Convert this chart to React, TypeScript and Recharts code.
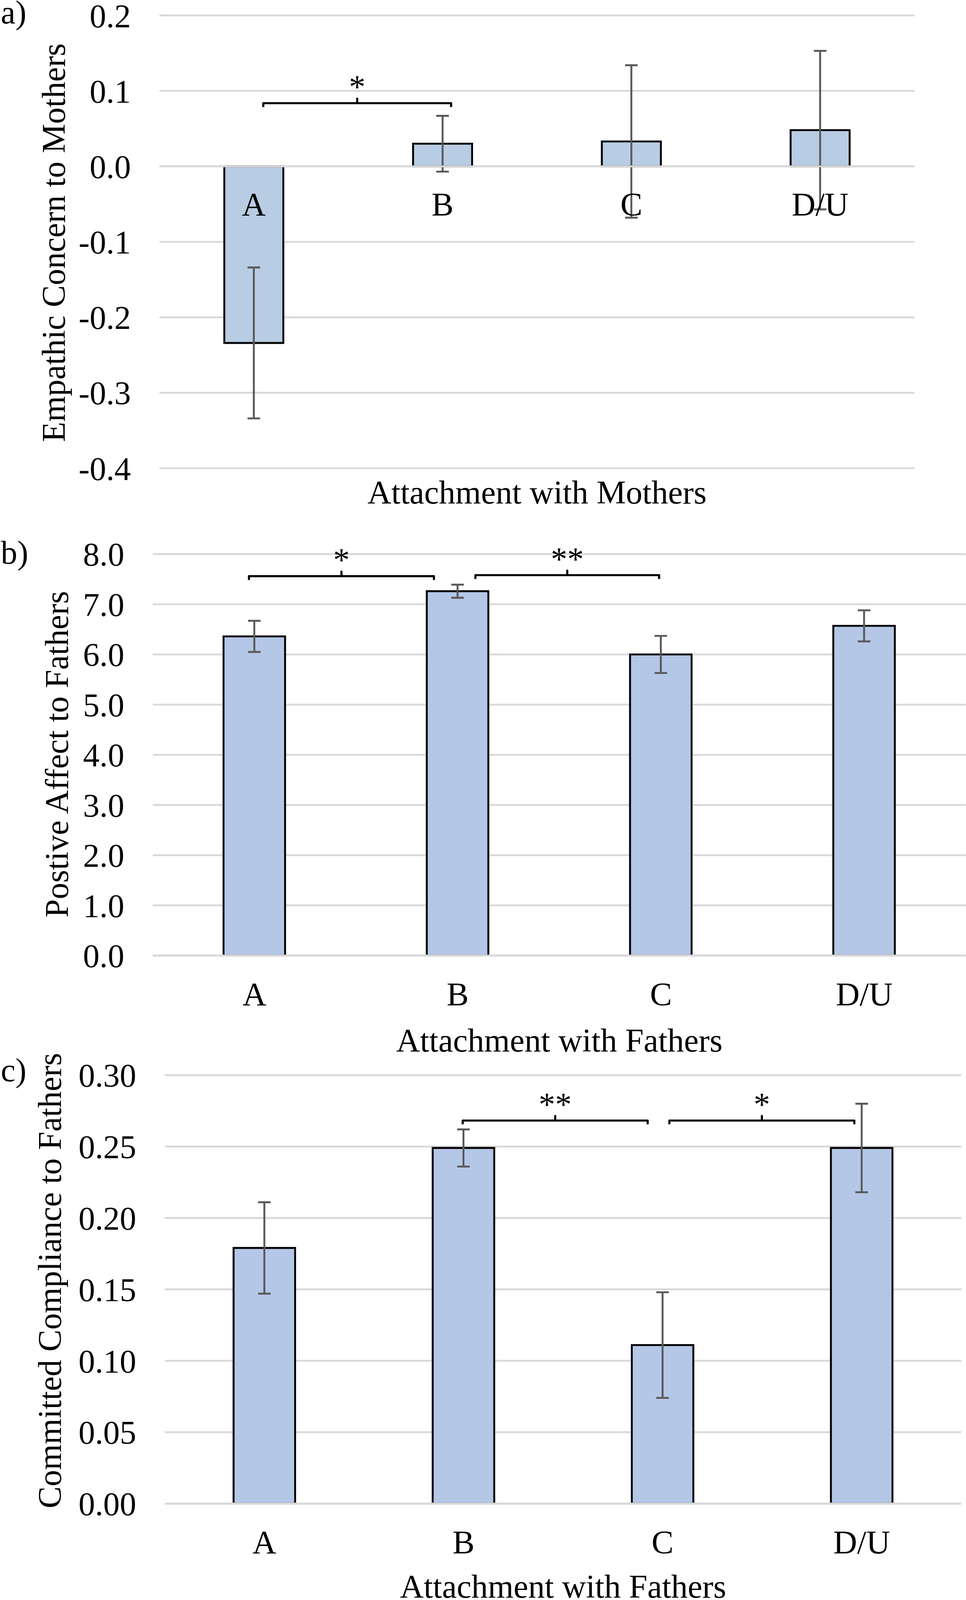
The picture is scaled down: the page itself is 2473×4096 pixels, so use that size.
import React from 'react';
import {
  ComposedChart,
  Bar,
  XAxis,
  YAxis,
  CartesianGrid,
  ErrorBar,
  LabelList,
  Line,
  ReferenceLine,
  ReferenceDot,
} from 'recharts';

const k = 0.975;
const FONT = "'Liberation Serif', 'Times New Roman', Times, serif";
const FS = 84.5;
const W = 2536;

// ---------- data ----------
const categories = ['A', 'B', 'C', 'D/U'];

const meansA = [-0.234, 0.03, 0.033, 0.048];
const errA = [0.1, 0.037, 0.101, 0.105];
const ticksA = [-0.4, -0.3, -0.2, -0.1, 0, 0.1, 0.2];

const meansB = [6.36, 7.26, 6.0, 6.57];
const errB = [0.31, 0.13, 0.37, 0.31];
const ticksB = [0, 1, 2, 3, 4, 5, 6, 7, 8];

const meansC = [0.179, 0.249, 0.111, 0.249];
const errC = [0.032, 0.013, 0.037, 0.031];
const ticksC = [0, 0.05, 0.1, 0.15, 0.2, 0.25, 0.3];

// significance brackets (positions in category-index units, level in data units)
const bracketsA = [{ from: 0.05, to: 1.045, y: 0.0837, label: '*' }];
const bracketsB = [
  { from: -0.027, to: 0.883, y: 7.56, label: '*' },
  { from: 1.087, to: 1.991, y: 7.58, label: '**' },
];
const bracketsC = [
  { from: 0.996, to: 1.925, y: 0.2682, label: '**' },
  { from: 2.034, to: 2.963, y: 0.2682, label: '*' },
];

type Bracket = { from: number; to: number; y: number; label: string };

type Panel = {
  tag: string;
  yTitle: string;
  xTitle: string;
  means: number[];
  errs: number[];
  ticks: number[];
  domain: [number, number];
  decimals: number;
  brackets: Bracket[];
  fill: string;
  atZero: boolean;
  top: number;
  height: number;
  plotLeft: number;
  plotRight: number;
  plotTop: number;
  plotBottom: number;
  barSize: number;
  tagBaseline: number;
  xTitleBaseline: number;
  yTitleX: number;
  yTitleCY: number;
  catOffset: number;
};

const panels: Panel[] = [
  {
    tag: 'a)',
    yTitle: 'Empathic Concern to Mothers',
    xTitle: 'Attachment with Mothers',
    means: meansA,
    errs: errA,
    ticks: ticksA,
    domain: [-0.4, 0.2],
    decimals: 1,
    brackets: bracketsA,
    fill: '#b8cce4',
    atZero: true,
    top: 0,
    height: 1400,
    plotLeft: 418.7,
    plotRight: 2401.3,
    plotTop: 40.5,
    plotBottom: 1229.4,
    barSize: 155,
    tagBaseline: 62,
    xTitleBaseline: 1322,
    yTitleX: 170,
    yTitleCY: 637,
    catOffset: 129,
  },
  {
    tag: 'b)',
    yTitle: 'Postive Affect to Fathers',
    xTitle: 'Attachment with Fathers',
    means: meansB,
    errs: errB,
    ticks: ticksB,
    domain: [0, 8],
    decimals: 1,
    brackets: bracketsB,
    fill: '#b4c7e7',
    atZero: false,
    top: 1380,
    height: 1420,
    plotLeft: 401.3,
    plotRight: 2536,
    plotTop: 74.3,
    plotBottom: 1128.4,
    barSize: 161.6,
    tagBaseline: 100,
    xTitleBaseline: 1381,
    yTitleX: 178,
    yTitleCY: 600,
    catOffset: 130.6,
  },
  {
    tag: 'c)',
    yTitle: 'Committed Compliance to Fathers',
    xTitle: 'Attachment with Fathers',
    means: meansC,
    errs: errC,
    ticks: ticksC,
    domain: [0, 0.3],
    decimals: 2,
    brackets: bracketsC,
    fill: '#b4c7e7',
    atZero: false,
    top: 2740,
    height: 1460,
    plotLeft: 432.8,
    plotRight: 2524,
    plotTop: 82.4,
    plotBottom: 1207.4,
    barSize: 161.6,
    tagBaseline: 98,
    xTitleBaseline: 1454.5,
    yTitleX: 160,
    yTitleCY: 622,
    catOffset: 130.6,
  },
];

const textProps = { fontSize: FS, fontFamily: FONT, fill: '#000' };

function PanelChart({ p }: { p: Panel }) {
  const data = categories.map((c, i) => ({ cat: c, mean: p.means[i], err: p.errs[i] }));
  const pxPerUnit = (p.plotBottom - p.plotTop) / (p.domain[1] - p.domain[0]);
  const hook = 10 / pxPerUnit;
  const peak = 12 / pxPerUnit;
  const plotCX = ((p.plotLeft + p.plotRight) / 2) * k;

  const zeroLabel = (props: any) => {
    const vb = props.viewBox || props;
    const x = Number(vb.x);
    const y = Number(vb.y);
    const w = Number(vb.width);
    const h = Number(vb.height);
    const idx = props.index;
    const v = idx != null ? p.means[idx] : 1;
    const zeroY = v >= 0 ? Math.max(y, y + h) : Math.min(y, y + h);
    return (
      <text x={x + w / 2} y={zeroY + p.catOffset * k} textAnchor="middle" {...textProps}>
        {props.value}
      </text>
    );
  };

  const catTick = (props: any) => {
    const { x, y, payload } = props;
    return (
      <text x={x} y={y + p.catOffset * k} textAnchor="middle" {...textProps}>
        {payload.value}
      </text>
    );
  };

  const ytx = p.yTitleX * k;
  const ytcy = p.yTitleCY * k;

  return (
    <div style={{ position: 'absolute', left: 0, top: p.top * k, width: W * k, height: p.height * k }}>
      <ComposedChart
        width={W * k}
        height={p.height * k}
        data={data}
        margin={{
          top: p.plotTop * k,
          right: (W - p.plotRight) * k,
          bottom: p.atZero ? (p.height - p.plotBottom) * k : 0,
          left: 0,
        }}
      >
        <CartesianGrid horizontal vertical={false} stroke="#d9d9d9" strokeWidth={5 * k} />
        <XAxis
          dataKey="cat"
          hide={p.atZero}
          height={p.atZero ? 0 : (p.height - p.plotBottom) * k}
          axisLine={false}
          tickLine={false}
          tickSize={0}
          tickMargin={0}
          interval={0}
          tick={catTick}
        />
        <XAxis xAxisId="num" type="number" dataKey="x" domain={[-0.5, 3.5]} hide allowDataOverflow />
        <YAxis
          width={p.plotLeft * k}
          domain={p.domain}
          ticks={p.ticks}
          allowDataOverflow
          interval={0}
          axisLine={false}
          tickLine={false}
          tickSize={0}
          tickMargin={75 * k}
          tick={textProps}
          tickFormatter={(v: number) => v.toFixed(p.decimals)}
        />
        <Bar
          dataKey="mean"
          fill={p.fill}
          stroke="#000"
          strokeWidth={5 * k}
          barSize={p.barSize * k}
          isAnimationActive={false}
        >
          <ErrorBar dataKey="err" width={16.5 * k} strokeWidth={5 * k} stroke="#595959" direction="y" />
          {p.atZero && <LabelList dataKey="cat" content={zeroLabel} />}
        </Bar>
        <ReferenceLine y={0} stroke="#d9d9d9" strokeWidth={5 * k} />
        {p.brackets.map((b, i) => {
          const mid = (b.from + b.to) / 2;
          const pts = [
            { x: b.from, y: b.y - hook },
            { x: b.from, y: b.y },
            { x: mid, y: b.y },
            { x: mid, y: b.y + peak },
            { x: mid, y: b.y },
            { x: b.to, y: b.y },
            { x: b.to, y: b.y - hook },
          ];
          return (
            <Line
              key={`br-${i}`}
              xAxisId="num"
              data={pts}
              dataKey="y"
              type="linear"
              stroke="#000"
              strokeWidth={5.5 * k}
              strokeLinejoin="round"
              dot={false}
              activeDot={false}
              legendType="none"
              isAnimationActive={false}
            />
          );
        })}
        {p.brackets.map((b, i) => (
          <ReferenceDot
            key={`st-${i}`}
            xAxisId="num"
            x={(b.from + b.to) / 2}
            y={b.y}
            r={0}
            ifOverflow="visible"
            shape={(sp: any) => (
              <text x={sp.cx} y={sp.cy - 13 * k} textAnchor="middle" {...textProps}>
                {b.label}
              </text>
            )}
          />
        ))}
        <text x={2 * k} y={p.tagBaseline * k} {...textProps}>
          {p.tag}
        </text>
        <text x={plotCX} y={p.xTitleBaseline * k} textAnchor="middle" {...textProps}>
          {p.xTitle}
        </text>
        <text
          x={ytx}
          y={ytcy}
          transform={`rotate(-90 ${ytx} ${ytcy})`}
          textAnchor="middle"
          {...textProps}
        >
          {p.yTitle}
        </text>
      </ComposedChart>
    </div>
  );
}

export default function App() {
  return (
    <div
      style={{
        position: 'absolute',
        left: 0,
        top: 0,
        width: W * k,
        height: 4200 * k,
        background: '#fff',
        overflow: 'hidden',
      }}
    >
      <style>{`.recharts-surface{overflow:visible}`}</style>
      {panels.map((p) => (
        <PanelChart key={p.tag} p={p} />
      ))}
    </div>
  );
}
